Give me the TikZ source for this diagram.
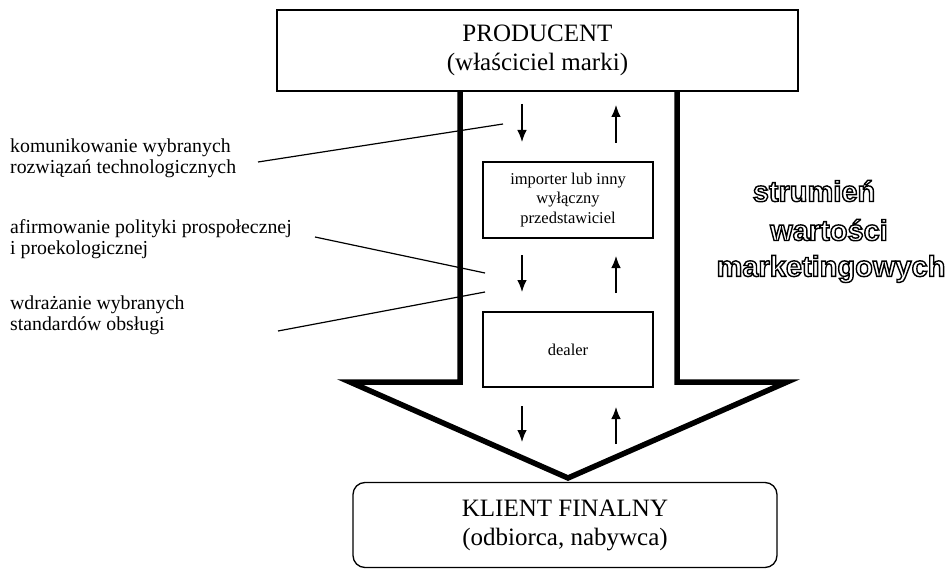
\documentclass[tikz,border=0pt]{standalone}
\usepackage{fontspec}
\setmainfont{Liberation Serif}
\newfontfamily\outlinefont{Liberation Sans}
\usetikzlibrary{arrows.meta}
\newcommand\mkoutline[1]{\special{pdf:literal direct 1 Tr 1.4 w}#1\special{pdf:literal direct 0 Tr}}
\begin{document}
\begin{tikzpicture}[x=1pt,y=-1pt,
  box/.style={draw, line width=1.3pt, inner sep=0pt, align=center},
  lbl/.style={anchor=west, align=left, font=\fontsize{19.8}{21}\selectfont, inner sep=0pt},
  flow/.style={line width=1.2pt, -{Latex[length=12pt,width=9.5pt]}},
  leader/.style={line width=1.2pt},
  bigarrow/.style={line width=5.5pt, line join=miter, miter limit=20},
  stream/.style={font=\outlinefont\bfseries\fontsize{29}{32}\selectfont, inner sep=0pt},
]
\useasboundingbox (0,0) rectangle (945,572);

% main boxes
\node[box, minimum width=521pt, minimum height=81pt, font=\fontsize{25}{29}\selectfont]
  (prod) at (537.5,50.5) {PRODUCENT\\(właściciel marki)};
\node[box, rounded corners=12pt, minimum width=424pt, minimum height=85pt, font=\fontsize{25}{29}\selectfont]
  (klient) at (565,525) {KLIENT FINALNY\\(odbiorca, nabywca)};

% big arrow
\draw[bigarrow] (460,91) -- (460,382) -- (350,382) -- (568,478) -- (787,382) -- (677,382) -- (677,91);

% intermediaries
\node[box, minimum width=170pt, minimum height=76pt, font=\fontsize{16.5}{19.5}\selectfont]
  (imp) at (568,200) {importer lub inny\\wyłączny\\przedstawiciel};
\node[box, minimum width=170pt, minimum height=75pt, font=\fontsize{16.5}{19.5}\selectfont]
  (dealer) at (568,349.5) {dealer};

% flow arrows
\coordinate (d1a) at (522,104); \coordinate (d1b) at (522,142);
\coordinate (u1a) at (616,143); \coordinate (u1b) at (616,105);
\coordinate (d2a) at (522,255); \coordinate (d2b) at (522,292);
\coordinate (u2a) at (616,293); \coordinate (u2b) at (616,256);
\coordinate (d3a) at (522,406); \coordinate (d3b) at (522,442);
\coordinate (u3a) at (616,444); \coordinate (u3b) at (616,407);
\draw[flow] (d1a) -- (d1b);
\draw[flow] (u1a) -- (u1b);
\draw[flow] (d2a) -- (d2b);
\draw[flow] (u2a) -- (u2b);
\draw[flow] (d3a) -- (d3b);
\draw[flow] (u3a) -- (u3b);

% labels
\node[lbl] (l1) at (10,158) {komunikowanie wybranych\\rozwiązań technologicznych};
\node[lbl] (l2) at (10,239) {afirmowanie polityki prospołecznej\\i proekologicznej};
\node[lbl] (l3) at (10,315) {wdrażanie wybranych\\standardów obsługi};

\coordinate (s1) at (258,162); \coordinate (e1) at (503,124);
\coordinate (s2) at (315,237); \coordinate (e2) at (485,273);
\coordinate (s3) at (278,331); \coordinate (e3) at (485,292);
\draw[leader] (s1) -- (e1);
\draw[leader] (s2) -- (e2);
\draw[leader] (s3) -- (e3);

% outlined title
\node[stream] (t1) at (814,191) {\mkoutline{strumień}};
\node[stream] (t2) at (829,230) {\mkoutline{wartości}};
\node[stream] (t3) at (831,269) {\mkoutline{marketingowych}};
\end{tikzpicture}
\end{document}
